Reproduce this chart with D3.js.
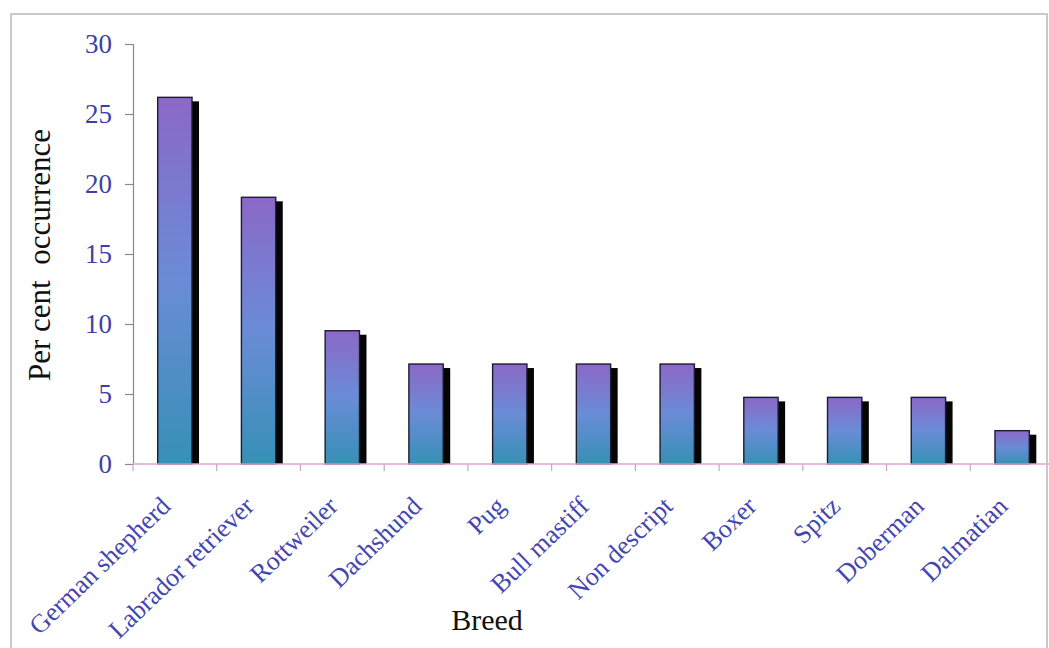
<!DOCTYPE html>
<html>
<head>
<meta charset="utf-8">
<script src="https://cdn.jsdelivr.net/npm/d3@7"></script>
<style>
  html, body { margin: 0; padding: 0; background: #fff; }
  svg { display: block; }
</style>
</head>
<body>
<svg id="chart" width="1049" height="648"></svg>
<script>
// Breeds and their per cent occurrence
const breeds = ["German shepherd", "Labrador retriever", "Rottweiler", "Dachshund", "Pug",
  "Bull mastiff", "Non descript", "Boxer", "Spitz", "Doberman", "Dalmatian"];
const percent = [26.19, 19.05, 9.52, 7.14, 7.14, 7.14, 7.14, 4.76, 4.76, 4.76, 2.38];
const yTicks = [0, 5, 10, 15, 20, 25, 30];

const W = 1049, H = 648;
const plot = { left: 133, right: 1054, top: 44, bottom: 464 };
const svg = d3.select("#chart");

// outer frame
svg.append("rect")
  .attr("x", 11).attr("y", 14)
  .attr("width", 1036).attr("height", H)
  .attr("fill", "none").attr("stroke", "#c4c4c4").attr("stroke-width", 1.8);

const x = d3.scaleBand().domain(breeds)
  .range([plot.left, plot.right]).paddingInner(0.59).paddingOuter(0.295);
const y = d3.scaleLinear().domain([0, 30]).range([plot.bottom, plot.top]);

// bar fill: purple at top, blue in the middle, teal at the bottom
const defs = svg.append("defs");
const grad = defs.append("linearGradient").attr("id", "barFill")
  .attr("x1", 0).attr("y1", 0).attr("x2", 0).attr("y2", 1);
grad.append("stop").attr("offset", "0%").attr("stop-color", "#8b68c8");
grad.append("stop").attr("offset", "50%").attr("stop-color", "#6a8cd6");
grad.append("stop").attr("offset", "100%").attr("stop-color", "#3690b6");

// y axis
const yAxis = svg.append("g")
  .attr("transform", `translate(${plot.left},0)`)
  .call(d3.axisLeft(y).tickValues(yTicks).tickSize(8).tickPadding(13));
yAxis.select(".domain").attr("stroke", "#8a8a8a").attr("stroke-width", 1.2);
yAxis.selectAll(".tick line").attr("stroke", "#8a8a8a").attr("stroke-width", 1.2);
yAxis.selectAll(".tick text")
  .attr("fill", "#3d3fa6").attr("font-family", "Liberation Serif, serif")
  .attr("font-size", 27);

// bars with a dark drop shadow on the right
const bars = svg.append("g");
const shadowDx = 7, shadowDy = 4;
bars.selectAll("rect.shadow").data(breeds).join("rect")
  .attr("class", "shadow")
  .attr("x", d => x(d) + shadowDx)
  .attr("y", (d, i) => y(percent[i]) + shadowDy)
  .attr("width", x.bandwidth())
  .attr("height", (d, i) => y(0) - y(percent[i]) - shadowDy)
  .attr("fill", "#050505");
bars.selectAll("rect.bar").data(breeds).join("rect")
  .attr("class", "bar")
  .attr("x", d => x(d))
  .attr("y", (d, i) => y(percent[i]))
  .attr("width", x.bandwidth())
  .attr("height", (d, i) => y(0) - y(percent[i]))
  .attr("fill", "url(#barFill)")
  .attr("stroke", "#1c1c2e").attr("stroke-width", 1.4);

// x axis (category boundaries as ticks)
const step = x.step();
const boundaries = d3.range(breeds.length + 1).map(i => plot.left + i * step);
const xg = svg.append("g");
xg.append("line")
  .attr("x1", plot.left).attr("x2", plot.right)
  .attr("y1", y(0)).attr("y2", y(0))
  .attr("stroke", "#e2a3d6").attr("stroke-width", 1.6);
xg.selectAll("line.tick").data(boundaries).join("line")
  .attr("class", "tick")
  .attr("x1", d => d).attr("x2", d => d)
  .attr("y1", y(0)).attr("y2", y(0) + 7)
  .attr("stroke", "#c9a3c8").attr("stroke-width", 1.2);

// rotated category labels
xg.selectAll("text.cat").data(breeds).join("text")
  .attr("class", "cat")
  .attr("transform", d => `translate(${x(d) + x.bandwidth() / 2 - 3},${y(0) + 44}) rotate(-44)`)
  .attr("text-anchor", "end")
  .attr("fill", "#4346b0")
  .attr("font-family", "Liberation Serif, serif")
  .attr("font-size", 26)
  .text(d => d);

// axis titles
svg.append("text")
  .attr("transform", `translate(50,${(y(0) + y(30)) / 2 + 1}) rotate(-90)`)
  .attr("text-anchor", "middle")
  .attr("font-family", "Liberation Serif, serif")
  .attr("font-size", 31)
  .attr("fill", "#111")
  .style("white-space", "pre")
  .text("Per cent  occurrence");

svg.append("text")
  .attr("x", 487).attr("y", 630)
  .attr("text-anchor", "middle")
  .attr("font-family", "Liberation Serif, serif")
  .attr("font-size", 30)
  .attr("fill", "#111")
  .text("Breed");
</script>
</body>
</html>
